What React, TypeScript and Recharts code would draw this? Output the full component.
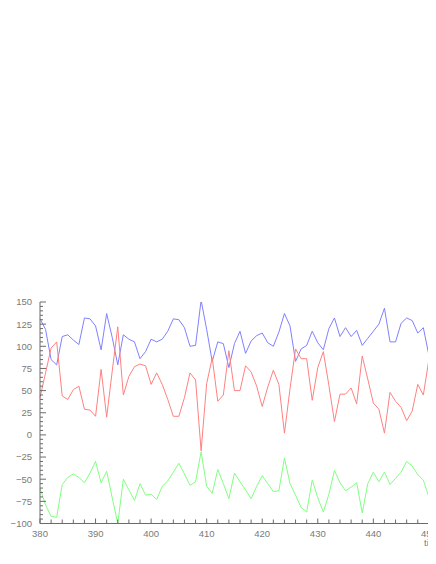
import React from 'react';
import { LineChart, Line, XAxis, YAxis } from 'recharts';

const time = [380, 381, 382, 383, 384, 385, 386, 387, 388, 389, 390, 391, 392, 393, 394, 395, 396, 397, 398, 399, 400, 401, 402, 403, 404, 405, 406, 407, 408, 409, 410, 411, 412, 413, 414, 415, 416, 417, 418, 419, 420, 421, 422, 423, 424, 425, 426, 427, 428, 429, 430, 431, 432, 433, 434, 435, 436, 437, 438, 439, 440, 441, 442, 443, 444, 445, 446, 447, 448, 449, 450, 451, 452];

const blueSeries = [131, 119, 85, 79, 111, 113, 107, 102, 132, 131, 123, 96, 137, 110, 79, 113, 108, 105, 86, 94, 108, 105, 108, 117, 131, 130, 121, 100, 101, 152, 119, 83, 105, 103, 76, 103, 117, 92, 106, 112, 115, 104, 100, 116, 137, 123, 83, 97, 101, 117, 104, 96, 120, 132, 111, 121, 111, 118, 101, 109, 117, 125, 143, 105, 105, 126, 132, 129, 115, 121, 90, 110, 115];

const redSeries = [42, 70, 98, 105, 44, 40, 51, 55, 29, 28, 21, 74, 20, 72, 122, 45, 66, 77, 80, 78, 57, 70, 57, 40, 21, 21, 42, 70, 62, -18, 58, 87, 38, 45, 95, 50, 50, 78, 71, 55, 32, 54, 73, 57, 2, 52, 97, 86, 86, 39, 76, 94, 56, 15, 46, 46, 53, 35, 89, 63, 36, 29, 2, 48, 38, 31, 16, 27, 57, 45, 85, 53, 65];

const greenSeries = [-60, -79, -92, -93, -56, -48, -44, -48, -54, -43, -30, -54, -41, -71, -100, -50, -62, -74, -55, -68, -67, -73, -58, -52, -42, -32, -44, -57, -53, -19, -58, -66, -39, -55, -72, -43, -53, -62, -72, -58, -46, -55, -64, -63, -26, -55, -68, -82, -87, -51, -71, -87, -67, -40, -54, -63, -59, -54, -88, -55, -42, -53, -42, -56, -49, -42, -30, -35, -45, -51, -70, -69, -74];

const xTicks = [380, 382, 384, 386, 388, 390, 392, 394, 396, 398, 400, 402, 404, 406, 408, 410, 412, 414, 416, 418, 420, 422, 424, 426, 428, 430, 432, 434, 436, 438, 440, 442, 444, 446, 448, 450, 452];
const yTicks = [-100, -95, -90, -85, -80, -75, -70, -65, -60, -55, -50, -45, -40, -35, -30, -25, -20, -15, -10, -5, 0, 5, 10, 15, 20, 25, 30, 35, 40, 45, 50, 55, 60, 65, 70, 75, 80, 85, 90, 95, 100, 105, 110, 115, 120, 125, 130, 135, 140, 145, 150];

const data = time.map((t, i) => ({ t, blue: blueSeries[i], red: redSeries[i], green: greenSeries[i] }));

const AXIS = '#6a6a6a';
const LABEL = '#7a7a7a';
const FONT = '"Liberation Sans", Arial, sans-serif';

const fmt = (v: number) => String(v).replace('-', '\u2212');

const BottomTick = (props: any) => {
  const { x, y, payload } = props;
  const v = payload.value;
  const major = v % 10 === 0;
  return (
    <g>
      <line x1={x} y1={y} x2={x} y2={y - (major ? 5 : 4)} stroke={AXIS} strokeWidth={1} />
      {major && (
        <text x={x} y={y + 13.5} textAnchor="middle" fontSize={9.5} fontFamily={FONT} fill={LABEL}>
          {v}
        </text>
      )}
    </g>
  );
};

const TopTick = (props: any) => {
  const { x, y, payload } = props;
  const major = payload.value % 10 === 0;
  return <line x1={x} y1={y} x2={x} y2={y + (major ? 5 : 4)} stroke={AXIS} strokeWidth={1} />;
};

const LeftTick = (props: any) => {
  const { x, y, payload } = props;
  const v = payload.value;
  const major = v % 25 === 0;
  return (
    <g>
      <line x1={x} y1={y} x2={x + (major ? 6 : 3)} y2={y} stroke={AXIS} strokeWidth={1} />
      {major && (
        <text x={x - 8} y={y + 3.4} textAnchor="end" fontSize={9.5} fontFamily={FONT} fill={LABEL}>
          {fmt(v)}
        </text>
      )}
    </g>
  );
};

const TimeLabel = (props: any) => {
  const { viewBox } = props;
  return (
    <text x={viewBox.x + viewBox.width - 16} y={viewBox.y + 22.5} fontSize={9.5} fontFamily={FONT} fill={LABEL}>
      time
    </text>
  );
};

export default function App() {
  return (
    <div style={{ width: 428, height: 545, overflow: 'hidden', background: '#fff' }}>
      <LineChart width={440} height={545} data={data} margin={{ top: 294, right: 8, bottom: 0, left: 0 }}>
        <XAxis
          dataKey="t"
          type="number"
          domain={[380, 452]}
          ticks={xTicks}
          interval={0}
          tickSize={0}
          tickMargin={0}
          tickLine={false}
          tick={<BottomTick />}
          height={29.5}
          axisLine={{ stroke: AXIS }}
          label={<TimeLabel />}
        />
        <XAxis
          xAxisId="top"
          orientation="top"
          type="number"
          domain={[380, 452]}
          ticks={xTicks}
          interval={0}
          tickSize={0}
          tickMargin={0}
          tickLine={false}
          tick={<TopTick />}
          height={0}
          axisLine={{ stroke: AXIS }}
        />
        <YAxis
          type="number"
          domain={[-100, 150]}
          allowDataOverflow
          ticks={yTicks}
          interval={0}
          tickSize={0}
          tickMargin={0}
          tickLine={false}
          tick={<LeftTick />}
          width={32}
          axisLine={{ stroke: AXIS }}
        />
        <Line type="linear" dataKey="blue" stroke="#8080ff" strokeWidth={1} dot={false} isAnimationActive={false} />
        <Line type="linear" dataKey="red" stroke="#ff8080" strokeWidth={1} dot={false} isAnimationActive={false} />
        <Line type="linear" dataKey="green" stroke="#80ff80" strokeWidth={1} dot={false} isAnimationActive={false} />
      </LineChart>
    </div>
  );
}
